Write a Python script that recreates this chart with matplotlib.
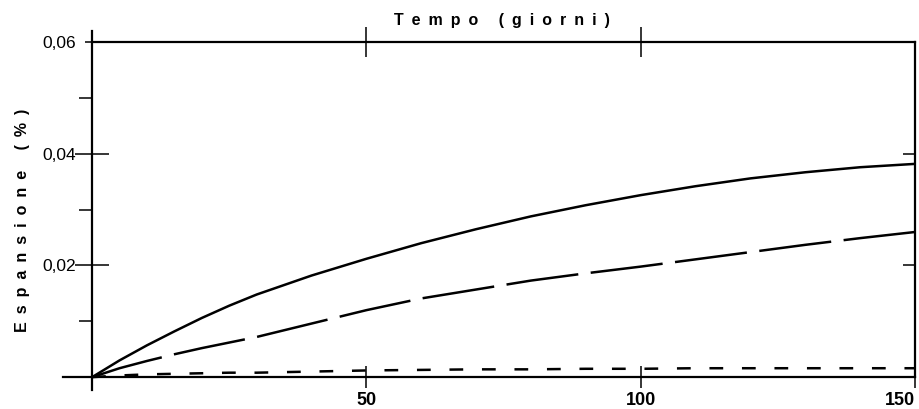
import numpy as np
import matplotlib
matplotlib.use("Agg")
import matplotlib.pyplot as plt
from matplotlib.ticker import FixedLocator, FixedFormatter

plt.rcParams['font.family'] = ['Liberation Sans', 'DejaVu Sans']

# data (days vs expansion %)
days = [0, 5, 10, 15, 20, 25, 30, 40, 50, 60, 70, 80, 90, 100, 110, 120, 130, 140, 150]
solid = [0, 0.0030, 0.0057, 0.0082, 0.0106, 0.0128, 0.0148, 0.0182, 0.0212, 0.0240,
         0.0265, 0.0288, 0.0308, 0.0326, 0.0342, 0.0356, 0.0367, 0.0376, 0.0382]
long_dash = [0, 0.0016, 0.0029, 0.0041, 0.0052, 0.0062, 0.0072, 0.0096, 0.0120, 0.0141,
             0.0157, 0.0173, 0.0186, 0.0198, 0.0211, 0.0224, 0.0237, 0.0249, 0.0260]
short_dash = [0, 0.0003, 0.0005, 0.0006, 0.0007, 0.0008, 0.0008, 0.0010, 0.0012, 0.0013,
              0.0014, 0.0014, 0.0015, 0.0015, 0.0016, 0.0016, 0.0016, 0.0016, 0.0016]

x_ticks = [50, 100, 150]
x_labels = ["50", "100", "150"]
y_ticks = [0.02, 0.04, 0.06]
y_labels = ["0,02", "0,04", "0,06"]
y_minor = [0.01, 0.03, 0.05]
right_ticks = [0, 0.02, 0.04]


def spaced(text):
    # letter-spaced lettering like the original drawing
    words = text.split(" ")
    return "\u2002\u2002 ".join("\u2002".join(w) for w in words)


fig = plt.figure(figsize=(9.19, 4.09), dpi=100)
ax = fig.add_axes([63 / 919, 1 - 390 / 409, 852 / 919, 359 / 409])

ax.plot(days, solid, color='black', lw=1.8)
ax.plot(days, long_dash, color='black', lw=1.8, linestyle=(0, (29, 5)))
ax.plot(days, short_dash, color='black', lw=1.8, linestyle=(0, (5.5, 7.5)))

ax.set_xlim(-5.3, 150)
ax.set_ylim(-0.0023, 0.062)

# axis frame: left/bottom through origin, top line at 0.06
for s in ax.spines.values():
    s.set_linewidth(1.6)
ax.spines['left'].set_position(('data', 0))
ax.spines['bottom'].set_position(('data', 0))
ax.spines['top'].set_position(('data', 0.06))
ax.spines['top'].set_bounds(0, 150)
ax.spines['right'].set_bounds(0, 0.06)

ax.xaxis.set_major_locator(FixedLocator(x_ticks))
ax.xaxis.set_major_formatter(FixedFormatter(x_labels))
ax.yaxis.set_major_locator(FixedLocator(y_ticks))
ax.yaxis.set_major_formatter(FixedFormatter(y_labels))
ax.yaxis.set_minor_locator(FixedLocator(y_minor))

ax.tick_params(axis='x', which='major', direction='inout', length=16.5, width=1.1,
               top=True, pad=2.5, labelsize=13)
ax.tick_params(axis='y', which='major', direction='inout', length=23.8, width=1.1,
               right=False, pad=0, labelsize=12.5)
ax.tick_params(axis='y', which='minor', direction='out', length=9.5, width=1.1,
               right=False)
for lab in ax.get_xticklabels():
    lab.set_fontweight('bold')
ax.get_xticklabels()[-1].set_horizontalalignment('right')

# top ticks are longer; 0,06 tick only a short stub on the left
for t in ax.xaxis.get_major_ticks():
    t.tick2line.set_markersize(21.6)
ax.xaxis.get_major_ticks()[2].tick2line.set_visible(False)
ax.yaxis.get_major_ticks()[2].tick1line.set_markersize(10)

# short inward ticks on the right edge
sec = ax.secondary_yaxis('right')
sec.spines['right'].set_visible(False)
sec.yaxis.set_major_locator(FixedLocator(right_ticks))
sec.tick_params(axis='y', direction='in', length=8.6, width=1.1, labelright=False)

fig.text(502 / 919, 1 - 20 / 409, spaced("Tempo (giorni)"), ha='center',
         va='center', fontsize=11.5, fontweight='bold')
fig.text(23 / 919, 1 - 220 / 409, spaced("Espansione (%)"), ha='center',
         va='center', rotation=90, fontsize=11.5, fontweight='bold')

fig.savefig("out.png", dpi=100)
